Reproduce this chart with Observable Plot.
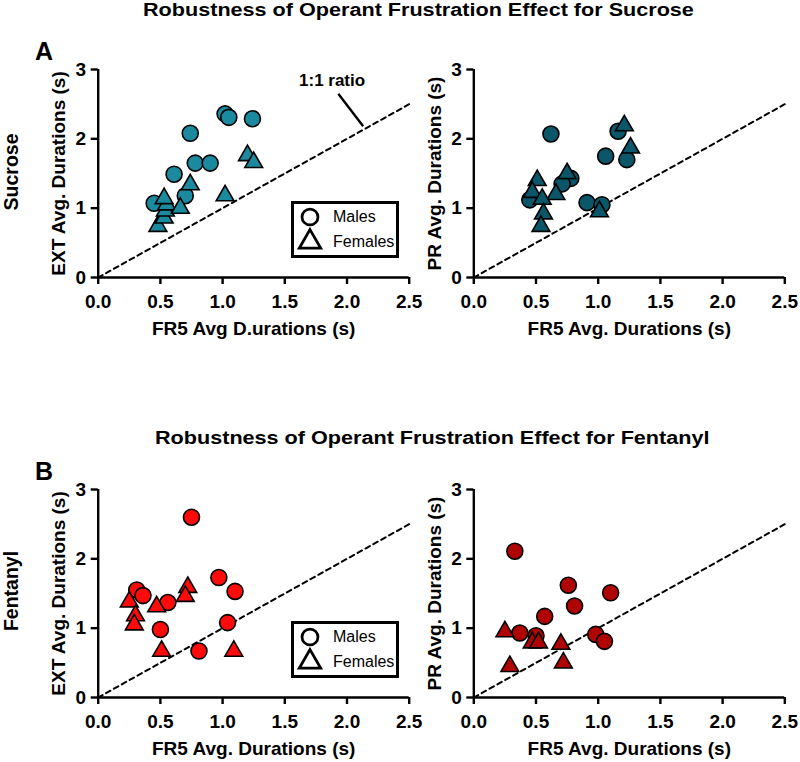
<!DOCTYPE html>
<html>
<head>
<meta charset="utf-8">
<script src="https://cdn.jsdelivr.net/npm/d3@7"></script>
<script src="https://cdn.jsdelivr.net/npm/@observablehq/plot@0.6"></script>
<style>
  body { margin: 0; background: #fff; }
  #fig { position: relative; width: 800px; height: 762px; overflow: hidden; background: #fff;
         font-family: "Liberation Sans", Arial, sans-serif; color: #000; }
  .abs { position: absolute; }
  .abs svg { overflow: visible; }
  .title { position: absolute; font-weight: bold; font-size: 18px; line-height: 19px; white-space: nowrap;
           transform: scaleX(1.2); transform-origin: 0 0; }
  .legbox { position: absolute; box-sizing: border-box; width: 108px; height: 57px;
            border: 3px solid #000; background: #fff; padding: 0 0 0 5px; }
  .legbox * { font-family: "Liberation Sans", Arial, sans-serif !important;
              font-size: 16px !important; font-weight: normal !important; color: #000 !important; }
  .legbox > div { margin: 0 !important; }
  .legbox .lg-swatch { height: 25px; padding-bottom: 0 !important; }
  .legbox .lg-swatch > svg { margin-right: 12px !important; }
</style>
</head>
<body>
<div id="fig"></div>
<script>
// ---------- data ----------
const xTicks = [0, 0.5, 1, 1.5, 2, 2.5];
const yTicks = [0, 1, 2, 3];
const genders = ["Males", "Females"];
const genderSymbols = ["circle", "triangle"];

const titles = ["Robustness of Operant Frustration Effect for Sucrose",
                "Robustness of Operant Frustration Effect for Fentanyl"];
const panelLetters = ["A", "B"];
const rowLabels = ["Sucrose", "Fentanyl"];
const xLabels = ["FR5 Avg D.urations (s)", "FR5 Avg. Durations (s)", "FR5 Avg. Durations (s)", "FR5 Avg. Durations (s)"];
const yLabels = ["EXT Avg. Durations (s)", "PR Avg. Durations (s)", "EXT Avg. Durations (s)", "PR Avg. Durations (s)"];
const colors = ["#1c8a9e", "#0b5668", "#ff0a0a", "#b00404"];

// [FR5 avg duration, EXT/PR avg duration]
const sucroseExtMales = [[1.02, 2.36], [1.05, 2.31], [1.24, 2.29], [0.74, 2.08], [0.78, 1.65],
                         [0.90, 1.65], [0.61, 1.49], [0.70, 1.18], [0.45, 1.07]];
const sucroseExtFemales = [[0.48, 0.74], [0.53, 0.86], [0.54, 0.96], [0.55, 1.05], [0.53, 1.14],
                           [0.66, 1.00], [0.74, 1.34], [1.02, 1.18], [1.20, 1.76], [1.25, 1.66]];
const sucrosePrMales = [[0.62, 2.07], [1.16, 2.11], [1.23, 1.70], [1.06, 1.75], [0.78, 1.43],
                        [0.71, 1.35], [0.45, 1.12], [0.91, 1.08], [1.03, 1.05]];
const sucrosePrFemales = [[1.21, 2.19], [1.26, 1.87], [0.75, 1.50], [0.66, 1.20], [0.51, 1.40],
                          [0.47, 1.23], [0.55, 1.13], [0.56, 0.92], [0.54, 0.74], [1.01, 0.95]];
const fentanylExtMales = [[0.75, 2.60], [0.97, 1.73], [1.10, 1.53], [0.31, 1.55], [0.36, 1.47],
                          [0.56, 1.37], [1.04, 1.08], [0.50, 0.98], [0.81, 0.67]];
const fentanylExtFemales = [[0.72, 1.59], [0.70, 1.46], [0.47, 1.31], [0.25, 1.38], [0.30, 1.18],
                            [0.29, 1.05], [0.51, 0.67], [1.09, 0.67]];
const fentanylPrMales = [[0.33, 2.11], [0.76, 1.62], [1.10, 1.51], [0.81, 1.32], [0.57, 1.17],
                         [0.37, 0.93], [0.50, 0.89], [0.98, 0.91], [1.05, 0.81]];
const fentanylPrFemales = [[0.25, 0.95], [0.29, 0.45], [0.47, 0.79], [0.52, 0.79], [0.70, 0.77],
                           [0.72, 0.50]];

const ratioNote = [{label: "1:1 ratio", x: 1.88, y: 2.84}];
const ratioPointer = [{x1: 1.93, y1: 2.65, x2: 2.13, y2: 2.18}];

// ---------- drawing ----------
const FONT = "Liberation Sans, Arial, sans-serif";
const fig = document.getElementById("fig");
const diagonal = [xTicks[0], xTicks[xTicks.length - 1]].map(v => [v, v]);

function panel({males, females, fill, xlabel, ylabel, left, top, width, marginLeft, annotate, legend}) {
  const frameW = 311;
  const marks = [
    Plot.line(diagonal, {x: d => d[0], y: d => d[1], stroke: "#000", strokeWidth: 2, strokeDasharray: "5,4"}),
    Plot.ruleY([yTicks[0]], {x1: xTicks[0], x2: xTicks[xTicks.length - 1], stroke: "#000", strokeWidth: 2.4}),
    Plot.ruleX([xTicks[0]], {y1: yTicks[0], y2: yTicks[yTicks.length - 1], stroke: "#000", strokeWidth: 2.4}),
    Plot.axisX({ticks: xTicks, tickFormat: d3.format(".1f"), tickSize: 7, tickPadding: 10, strokeWidth: 2.4,
                fontSize: 19, fontWeight: "bold", fontFamily: FONT,
                label: xlabel, labelAnchor: "center", labelOffset: 57, labelArrow: "none"}),
    Plot.axisY({ticks: yTicks, tickFormat: d3.format("d"), tickSize: 7, tickPadding: 5, strokeWidth: 2.4,
                fontSize: 19, fontWeight: "bold", fontFamily: FONT,
                label: ylabel, labelAnchor: "center", labelOffset: 46.5, labelArrow: "none"}),
    Plot.dot(males, {x: d => d[0], y: d => d[1], r: 8, fill, stroke: "#000", strokeWidth: 1.6}),
    Plot.dot(females, {x: d => d[0], y: d => d[1], symbol: "triangle", r: 6.6, fill, stroke: "#000", strokeWidth: 1.6})
  ];
  if (annotate) {
    marks.push(
      Plot.text(ratioNote, {x: "x", y: "y", text: "label", fontSize: 17, fontWeight: "bold", fontFamily: FONT, fill: "#000"}),
      Plot.link(ratioPointer, {x1: "x1", y1: "y1", x2: "x2", y2: "y2", stroke: "#000", strokeWidth: 2.4})
    );
  }
  const chart = Plot.plot({
    width, height: 345,
    marginLeft, marginRight: width - marginLeft - frameW, marginTop: 69, marginBottom: 68,
    x: {domain: [xTicks[0], xTicks[xTicks.length - 1]]},
    y: {domain: [yTicks[0], yTicks[yTicks.length - 1]]},
    style: {fontFamily: FONT, fontSize: "19px", fontWeight: "bold", color: "#000", background: "transparent", overflow: "visible"},
    marks
  });
  const wrap = document.createElement("div");
  wrap.className = "abs";
  wrap.style.left = left + "px";
  wrap.style.top = top + "px";
  wrap.appendChild(chart);
  fig.appendChild(wrap);

  if (legend) {
    const box = document.createElement("div");
    box.className = "legbox";
    box.style.left = (left + 291) + "px";
    box.style.top = (top + 201) + "px";
    box.appendChild(Plot.legend({
      symbol: {type: "ordinal", domain: genders, range: genderSymbols},
      columns: 1, r: 5.8, fill: "none", stroke: "#000", strokeWidth: 2, swatchSize: 22,
      className: "lg"
    }));
    fig.appendChild(box);
  }
}

panel({males: sucroseExtMales, females: sucroseExtFemales, fill: colors[0], xlabel: xLabels[0], ylabel: yLabels[0],
       left: 0, top: 0, width: 420, marginLeft: 97.7, annotate: true, legend: true});
panel({males: sucrosePrMales, females: sucrosePrFemales, fill: colors[1], xlabel: xLabels[1], ylabel: yLabels[1],
       left: 420, top: 0, width: 380, marginLeft: 53.3});
panel({males: fentanylExtMales, females: fentanylExtFemales, fill: colors[2], xlabel: xLabels[2], ylabel: yLabels[2],
       left: 0, top: 420, width: 420, marginLeft: 97.7, legend: true});
panel({males: fentanylPrMales, females: fentanylPrFemales, fill: colors[3], xlabel: xLabels[3], ylabel: yLabels[3],
       left: 420, top: 420, width: 380, marginLeft: 53.3});

// titles (HTML)
function addTitle(str, x, y) {
  const d = document.createElement("div");
  d.className = "title";
  d.style.left = x + "px";
  d.style.top = y + "px";
  d.textContent = str;
  fig.appendChild(d);
}
addTitle(titles[0], 143, 1.3);
addTitle(titles[1], 155, 429.3);

// panel letters, row labels
const ns = "http://www.w3.org/2000/svg";
const over = document.createElementNS(ns, "svg");
over.setAttribute("width", 800);
over.setAttribute("height", 762);
over.style.position = "absolute";
over.style.left = "0px";
over.style.top = "0px";
over.style.pointerEvents = "none";
over.setAttribute("font-family", FONT);
over.setAttribute("font-weight", "bold");
function addText(str, attrs) {
  const t = document.createElementNS(ns, "text");
  for (const k in attrs) t.setAttribute(k, attrs[k]);
  t.textContent = str;
  over.appendChild(t);
}
addText(panelLetters[0], {x: 35, y: 60, "font-size": 25});
addText(panelLetters[1], {x: 35, y: 480, "font-size": 25});
addText(rowLabels[0], {transform: "translate(18,172) rotate(-90)", "text-anchor": "middle", "font-size": 19.5});
addText(rowLabels[1], {transform: "translate(18,591) rotate(-90)", "text-anchor": "middle", "font-size": 19.5});
fig.appendChild(over);
</script>
</body>
</html>
